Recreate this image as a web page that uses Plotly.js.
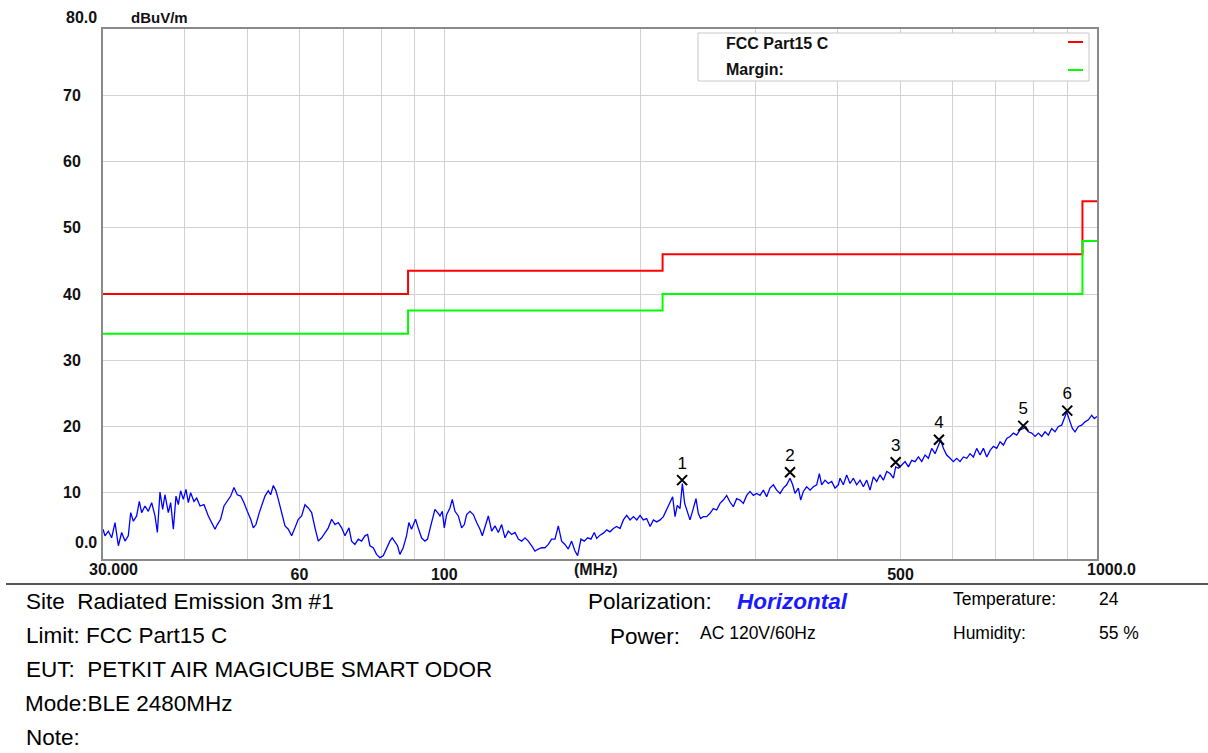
<!DOCTYPE html>
<html><head><meta charset="utf-8">
<script src="https://cdn.plot.ly/plotly-3.0.1.min.js"></script>
<style>html,body{margin:0;padding:0;background:#fff}#chart{width:1208px;height:753px}</style>
</head><body><div id="chart"></div>
<script>
// ---- data ----
const traceFreqMHz = [
 30.00,30.21,30.57,30.93,31.30,31.67,32.04,32.42,32.80,33.08,
 33.39,33.78,34.10,34.38,34.79,35.20,35.62,36.04,36.34,36.68,
 37.03,37.33,37.77,38.09,38.45,38.81,39.13,39.45,39.83,40.20,
 40.54,40.87,41.35,41.75,42.24,42.84,43.50,44.02,44.54,44.90,
 45.43,45.97,46.51,47.07,47.62,48.18,48.76,49.33,49.91,50.51,
 50.98,51.46,52.07,52.69,53.12,53.75,54.20,54.71,55.22,55.68,
 56.34,57.01,57.68,58.36,59.05,59.75,60.46,61.17,61.89,62.63,
 63.37,64.12,64.88,65.64,66.42,67.21,68.00,68.80,69.62,70.44,
 71.44,72.11,72.96,73.83,74.70,75.58,76.30,76.92,77.83,78.75,
 79.68,80.62,81.58,82.54,83.22,84.01,84.80,85.50,86.51,87.53,
 88.26,89.09,90.36,91.21,92.29,93.38,94.27,95.16,95.97,96.76,
 97.68,98.49,99.30,100.0,100.83,102.02,102.86,103.84,105.07,106.31,
 107.32,108.21,109.49,110.79,112.10,113.42,114.36,115.44,116.81,118.19,
 119.59,121.00,122.43,123.88,125.34,126.83,128.33,129.84,131.38,132.93,
 134.50,136.09,137.70,139.33,140.97,142.64,144.33,146.03,147.76,149.51,
 151.28,153.06,154.87,156.70,158.56,160.06,161.95,163.86,165.80,167.76,
 169.74,
 171.2,173.2,175.3,177.4,179.4,181.6,183.7,185.9,188.1,190.3,
 192.6,194.9,197.2,199.5,201.8,204.2,206.7,209.1,211.6,214.1,
 216.6,219.1,221.7,223.8,225.7,227.5,229.7,231.6,233.5,235.7,
 237.9,240.7,243.0,245.0,247.0,249.4,252.3,255.3,258.3,261.4,
 264.5,267.6,270.8,274.0,277.2,280.5,283.8,287.2,290.6,294.0,
 297.5,301.0,304.6,308.2,311.8,315.5,319.3,323.0,326.9,330.7,
 334.6,338.6,341.8,344.6,348.7,351.6,354.9,359.1,363.4,367.7,
 372.0,375.5,378.6,383.1,387.6,392.2,396.8,401.5,
 403.9,408.7,413.5,418.4,423.4,428.4,433.5,438.6,443.8,449.0,
 454.3,459.7,465.2,470.7,476.3,481.9,487.6,491.6,496.3,502.2,
 508.1,514.1,520.2,526.3,532.6,538.9,545.2,551.7,558.2,564.8,
 571.5,576.2,581.6,588.5,595.5,602.5,609.6,616.9,624.2,631.6,
 639.0,646.6,654.2,662.0,669.8,677.8,685.8,693.9,702.1,710.4,
 718.8,727.3,735.9,744.6,753.4,762.3,771.3,777.7,785.0,794.3,
 803.7,813.2,822.8,832.5,842.4,852.3,862.4,872.6,882.9,891.3,
 898.6,909.3,916.8,925.5,936.4,947.5,958.7,970.0,981.4,990.6,
 1000
];
const traceLevel = [
 4.5,3.5,4.2,3.2,5.5,2.0,4.0,2.7,3.5,7.0,
 5.7,6.5,8.7,7.0,8.0,7.2,8.5,6.5,4.0,10.1,
 7.5,9.7,7.0,8.5,4.5,9.5,8.2,10.3,9.0,10.5,
 8.5,10.0,8.7,9.2,8.0,8.2,6.5,5.5,4.5,5.2,
 6.0,8.0,8.7,9.5,10.8,9.7,9.5,8.5,7.2,6.0,
 4.7,5.2,7.0,8.5,9.5,10.3,9.7,11.1,10.3,9.0,
 7.2,5.0,4.5,3.5,4.7,6.0,6.5,8.2,7.7,7.0,
 4.7,2.7,3.2,4.0,4.7,6.0,5.2,5.5,4.7,3.5,
 4.7,2.7,2.2,3.0,2.7,3.5,3.7,2.0,1.7,0.7,
 0.2,0.5,1.7,2.7,3.2,2.5,2.0,0.7,1.7,3.5,
 5.5,4.5,6.0,4.7,3.2,2.7,3.0,4.7,6.2,7.5,
 7.0,6.5,7.2,4.7,6.7,7.7,9.0,7.2,6.5,4.7,
 5.2,6.7,7.2,6.7,5.5,4.5,3.5,5.0,6.5,4.2,
 5.0,4.0,5.2,3.2,4.2,3.7,4.0,3.0,2.7,3.2,
 2.7,2.0,1.2,1.5,1.7,1.7,2.2,3.0,3.0,5.0,
 2.7,2.2,1.5,2.7,1.2,0.5,3.0,2.7,3.2,3.0,
 4.0,
 3.1,3.6,3.9,4.4,4.1,4.6,4.9,4.6,5.9,6.6,
 5.9,6.4,5.9,6.6,5.9,6.1,4.9,5.9,5.6,5.9,
 6.4,7.4,8.6,9.4,6.4,8.1,7.6,11.4,8.4,7.1,
 5.9,7.6,9.1,6.9,6.1,6.4,6.4,6.9,7.6,7.4,
 8.4,8.9,9.6,8.6,7.9,9.1,8.9,8.4,9.6,10.2,
 9.6,9.9,9.6,10.4,9.4,10.7,11.2,10.4,9.9,10.7,
 11.2,12.2,11.2,9.9,10.7,8.9,10.2,10.9,10.4,10.9,
 11.2,12.9,11.2,11.9,11.4,11.7,10.7,11.2,
 12.2,11.2,12.7,11.4,12.2,11.2,11.9,10.9,11.9,10.4,
 12.4,11.7,12.7,11.9,13.2,12.9,12.2,13.9,13.7,14.2,
 14.7,13.9,14.9,14.7,15.4,14.7,15.7,15.2,16.7,15.9,
 17.2,18.0,16.7,15.7,15.2,14.7,15.2,14.7,15.4,15.2,
 15.9,15.4,16.7,15.7,16.7,15.4,16.4,17.0,16.7,17.7,
 17.2,18.2,18.5,19.0,18.7,19.5,19.7,20.0,19.2,19.0,
 18.5,19.0,18.5,19.2,18.7,19.7,19.2,20.0,20.2,21.2,
 22.2,20.7,19.7,19.2,20.0,20.2,20.7,21.0,21.7,21.2,
 21.5
];
const limitFreqMHz = [30, 88, 216, 950, 1000];
const limitLevel   = [40, 43.5, 46, 54, 54];
const marginLevel  = [34, 37.5, 40, 48, 48];
const markerFreqMHz = [231.4, 338.6, 491.5, 572.6, 770.9, 900.4];
const markerLevel   = [11.9, 13.1, 14.6, 18.0, 20.1, 22.4];
const markerLabels  = ['1','2','3','4','5','6'];
const xGridFreqs = [40,50,60,70,80,90,100,200,300,400,500,600,700,800,900];
const xTickText  = ['','','60','','','','100','','','','500','','','',''];
const yTickVals  = [10,20,30,40,50,60,70];
const yTickText  = ['10','20','30','40','50','60','70'];

// ---- layout helpers (pixel -> paper) ----
const FONT = 'Liberation Sans, Arial, sans-serif';
const L = 103, R = 1097, T = 29, B = 559;
const px = x => (x - L) / (R - L);
const py = y => (B - y) / (B - T);
function ann(text, x, y, xanchor, font) {
  return {text, xref:'paper', yref:'paper', x:px(x), y:py(y), xanchor, yanchor:'middle',
          showarrow:false, font:Object.assign({family:FONT, color:'#000'}, font)};
}
const boldTick = {size:16, weight:'bold', color:'#111'};
const big = {size:22.5};
const small = {size:17.5};

const traces = [
  {x:limitFreqMHz, y:limitLevel, mode:'lines', line:{color:'#ff0000', width:2, shape:'hv'}, hoverinfo:'skip'},
  {x:limitFreqMHz, y:marginLevel, mode:'lines', line:{color:'#00ff00', width:2, shape:'hv'}, hoverinfo:'skip'},
  {x:traceFreqMHz, y:traceLevel, mode:'lines', line:{color:'#0000ff', width:1.3}},
  {x:markerFreqMHz, y:markerLevel, mode:'markers+text', text:markerLabels, textposition:'top center',
   textfont:{family:FONT, size:17, color:'#000'},
   marker:{symbol:'x-thin-open', size:10, color:'#000', line:{width:2, color:'#000'}}}
];

const layout = {
  width:1208, height:753,
  margin:{l:L, r:1208-R, t:T, b:753-B},
  paper_bgcolor:'#fff', plot_bgcolor:'#fff', showlegend:false,
  xaxis:{type:'log', range:[Math.log10(30), 3], tickvals:xGridFreqs, ticktext:xTickText,
         showgrid:true, gridcolor:'#d2d2d2', gridwidth:1, zeroline:false,
         showline:true, mirror:true, linecolor:'#8a8a8a', linewidth:2, ticks:'',
         tickfont:Object.assign({family:FONT}, boldTick)},
  yaxis:{range:[0,80], tickvals:yTickVals, ticktext:yTickText,
         showgrid:true, gridcolor:'#d2d2d2', gridwidth:1, zeroline:false,
         showline:true, mirror:true, linecolor:'#8a8a8a', linewidth:2,
         ticks:'outside', ticklen:17, tickcolor:'rgba(0,0,0,0)',
         tickfont:Object.assign({family:FONT}, boldTick)},
  shapes:[
    {type:'rect', xref:'paper', yref:'paper', x0:px(698), x1:px(1089), y0:py(81), y1:py(33),
     fillcolor:'#fff', line:{color:'#c8c8c8', width:1}, layer:'above'},
    {type:'line', xref:'paper', yref:'paper', x0:px(1068), x1:px(1083), y0:py(42), y1:py(42),
     line:{color:'#ff0000', width:2}},
    {type:'line', xref:'paper', yref:'paper', x0:px(1068), x1:px(1083), y0:py(70), y1:py(70),
     line:{color:'#00ff00', width:2}},
    {type:'line', xref:'paper', yref:'paper', x0:px(6), x1:px(1208), y0:py(584), y1:py(584),
     line:{color:'#555', width:2}}
  ],
  annotations:[
    ann('80.0', 64, 17, 'left', boldTick),
    ann('dBuV/m', 129, 17, 'left', {size:15, weight:'bold', color:'#111'}),
    ann('0.0', 99, 542, 'right', boldTick),
    ann('30.000', 113, 569, 'center', boldTick),
    ann('(MHz)', 596, 569, 'center', boldTick),
    ann('1000.0', 1111, 569, 'center', boldTick),
    ann('FCC Part15 C', 724, 43, 'left', {size:16, weight:'bold', color:'#111'}),
    ann('Margin:', 724, 69, 'left', {size:16, weight:'bold', color:'#111'}),
    ann('Site&nbsp;&nbsp;Radiated Emission 3m #1', 24, 601, 'left', big),
    ann('Limit: FCC Part15 C', 24, 635, 'left', big),
    ann('EUT:&nbsp;&nbsp;PETKIT AIR MAGICUBE SMART ODOR', 24, 669, 'left', big),
    ann('Mode:BLE 2480MHz', 23, 703, 'left', big),
    ann('Note:', 24, 737, 'left', big),
    ann('Polarization:', 586, 601, 'left', big),
    ann('Horizontal', 735, 601, 'left', {size:22.5, weight:'bold', style:'italic', color:'#1a1aff'}),
    ann('Power:', 608, 636, 'left', big),
    ann('AC 120V/60Hz', 698, 633, 'left', small),
    ann('Temperature:', 951, 599, 'left', small),
    ann('24', 1097, 599, 'left', small),
    ann('Humidity:', 951, 633, 'left', small),
    ann('55 %', 1097, 633, 'left', small)
  ]
};

Plotly.newPlot('chart', traces, layout, {displayModeBar:false, staticPlot:true});
</script>
</body></html>
